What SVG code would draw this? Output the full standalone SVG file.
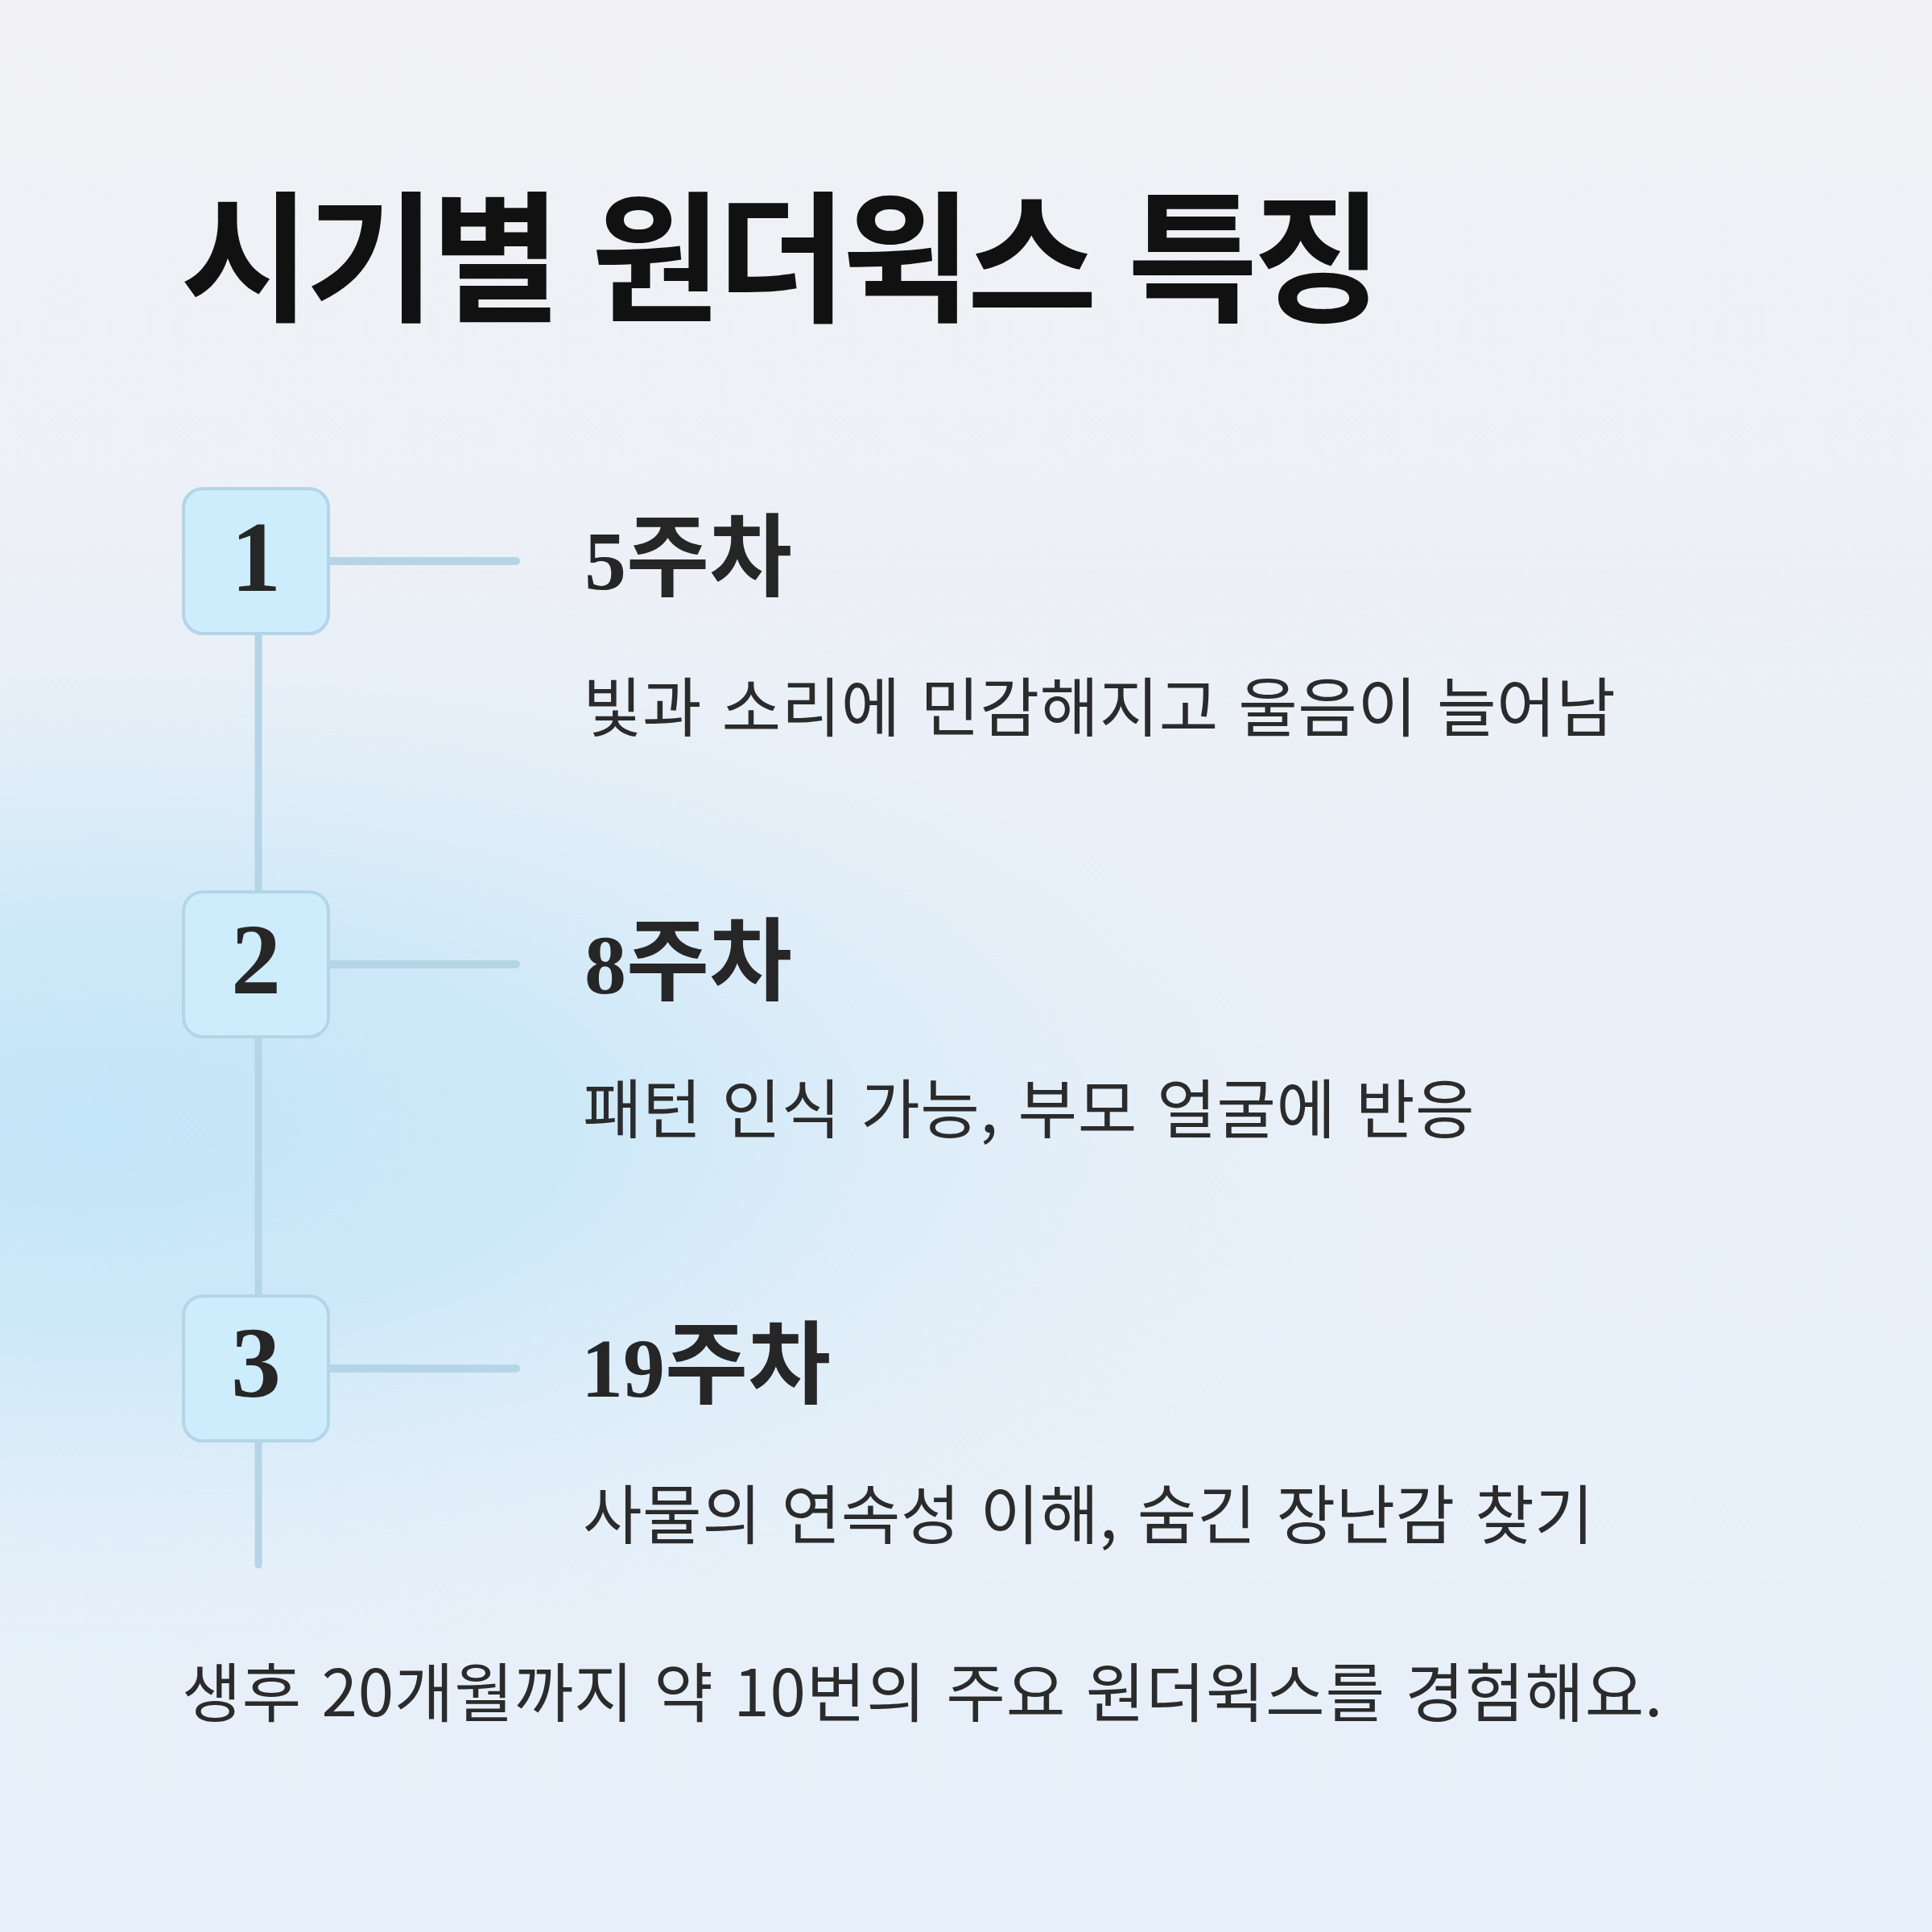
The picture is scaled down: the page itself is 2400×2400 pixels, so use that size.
<svg xmlns="http://www.w3.org/2000/svg" width="2400" height="2400" viewBox="0 0 2400 2400">
  <defs>
    <linearGradient id="bg" x1="0" y1="0" x2="0" y2="1">
      <stop offset="0" stop-color="#f1f1f5"/>
      <stop offset="0.45" stop-color="#eaf0f7"/>
      <stop offset="1" stop-color="#e6f0fa"/>
    </linearGradient>
    <radialGradient id="blob" cx="120" cy="1400" r="1000" gradientUnits="userSpaceOnUse" gradientTransform="translate(120 1400) scale(1.7 0.72) translate(-120 -1400)">
      <stop offset="0" stop-color="#c3e6f8" stop-opacity="1"/>
      <stop offset="0.35" stop-color="#c8e7f8" stop-opacity="0.85"/>
      <stop offset="1" stop-color="#e6f0fa" stop-opacity="0"/>
    </radialGradient>
    <style>
      .title { font-family: "Noto Sans CJK KR", sans-serif; font-weight: 700; font-size: 176px; fill: #111111; letter-spacing: -6.3px; word-spacing: 10px; }
      .box { fill: #cdecfc; stroke: #b4d5e6; stroke-width: 4; }
      .num { font-family: "Liberation Serif", serif; font-weight: 700; font-size: 124px; fill: #262626; text-anchor: middle; }
      .hd-num { font-family: "Liberation Serif", serif; font-weight: 700; font-size: 104px; }
      .hd-ko { font-family: "Noto Sans CJK KR", sans-serif; font-weight: 700; font-size: 112px; letter-spacing: 0px; }
      .hd { fill: #262626; }
      .body { font-family: "Noto Sans CJK KR", sans-serif; font-weight: 400; font-size: 80px; fill: #2b2b2b; letter-spacing: 0.5px; word-spacing: 6px; }
      .foot { letter-spacing: 0.8px; }
      .conn { stroke: #b4d5e6; stroke-width: 10; stroke-linecap: round; fill: none; }
      .vline { stroke: #b4d5e6; stroke-width: 9; stroke-linecap: round; fill: none; }
    </style>
  </defs>
  <rect x="0" y="0" width="2400" height="2400" fill="url(#bg)"/>
  <rect x="0" y="0" width="2400" height="2400" fill="url(#blob)"/>

  <text class="title" x="224" y="386">시기별 원더윅스 특징</text>

  <g id="connectors">
    <line class="vline" x1="321" y1="697" x2="321" y2="1944"/>
    <line class="conn" x1="318" y1="697" x2="641" y2="697"/>
    <line class="conn" x1="318" y1="1198" x2="641" y2="1198"/>
    <line class="conn" x1="318" y1="1700" x2="641" y2="1700"/>
  </g>

  <g id="node-1">
    <rect class="box" x="228" y="607" width="180" height="180" rx="24"/>
    <text class="num" x="318" y="734">1</text>
    <text class="hd" x="726" y="732"><tspan class="hd-num">5</tspan><tspan class="hd-ko">주차</tspan></text>
    <text class="body" x="724" y="908">빛과 소리에 민감해지고 울음이 늘어남</text>
  </g>

  <g id="node-2">
    <rect class="box" x="228" y="1108" width="180" height="180" rx="24"/>
    <text class="num" x="318" y="1234">2</text>
    <text class="hd" x="726" y="1234"><tspan class="hd-num">8</tspan><tspan class="hd-ko">주차</tspan></text>
    <text class="body" x="724" y="1407">패턴 인식 가능, 부모 얼굴에 반응</text>
  </g>

  <g id="node-3">
    <rect class="box" x="228" y="1610" width="180" height="180" rx="24"/>
    <text class="num" x="318" y="1735">3</text>
    <text class="hd" x="722" y="1735"><tspan class="hd-num">19</tspan><tspan class="hd-ko">주차</tspan></text>
    <text class="body" x="724" y="1911">사물의 연속성 이해, 숨긴 장난감 찾기</text>
  </g>

  <text class="body foot" x="226" y="2132">생후 20개월까지 약 10번의 주요 원더윅스를 경험해요.</text>
</svg>
